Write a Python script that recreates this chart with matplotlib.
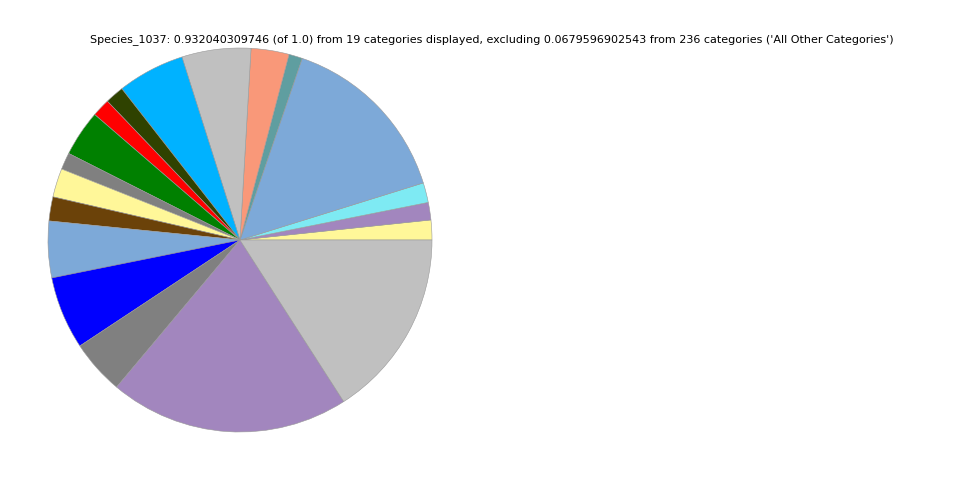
import matplotlib
matplotlib.use("Agg")
import matplotlib.pyplot as plt

# slice sizes (degrees of the circle, normalised by the pie)
values = [6.0, 5.3, 6.0, 53.8, 4.1, 11.5, 20.9, 20.4, 5.7, 5.5, 14.0, 5.1,
          8.7, 7.3, 17.1, 22.1, 16.5, 72.7, 57.3]
colors = ["#FFF799", "#A286BE", "#7EEAF3", "#7DA9D8", "#5F9EA0", "#F99879",
          "#C0C0C0", "#00B2FF", "#2F4200", "#FF0000", "#008000", "#808080",
          "#FFF799", "#6B4209", "#7DA9D8", "#0000FF", "#808080", "#A286BE",
          "#C0C0C0"]
title = ("Species_1037: 0.932040309746 (of 1.0) from 19 categories displayed, "
         "excluding 0.0679596902543 from 236 categories ('All Other Categories')")

fig = plt.figure(figsize=(12, 6), dpi=80)
ax = fig.add_axes([0.05, 0.1, 0.4, 0.8])
ax.pie(values, colors=colors, startangle=0, counterclock=True,
       wedgeprops=dict(edgecolor="#999999", linewidth=0.5))
ax.set_aspect("equal")
ax.set_xlim(-1, 1)
ax.set_ylim(-1, 1)
ax.axis("off")
fig.text(492 / 960, 1 - 40 / 480, title, ha="center", va="center", fontsize=10)
fig.savefig("out.png", dpi=80)
